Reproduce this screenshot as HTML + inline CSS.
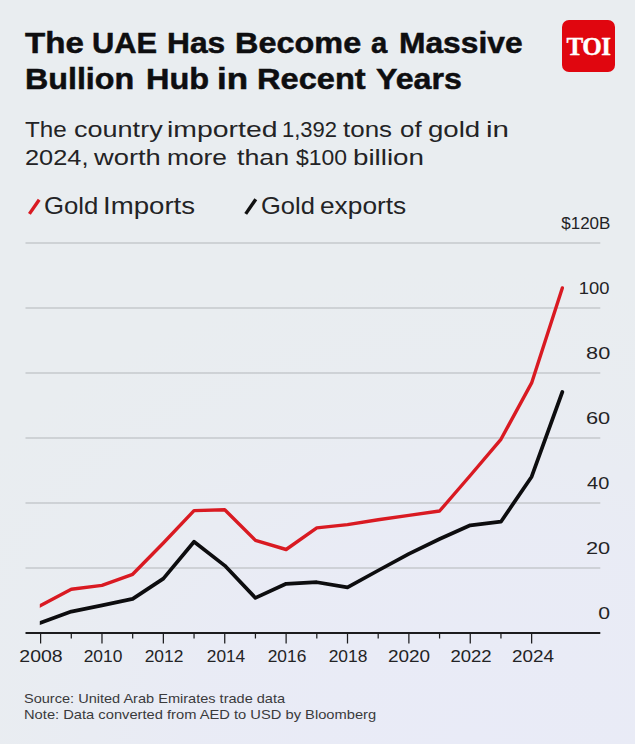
<!DOCTYPE html>
<html><head><meta charset="utf-8"><style>
html,body{margin:0;padding:0;}
body{width:635px;height:744px;position:relative;overflow:hidden;background:#e9edf0;
background-image:radial-gradient(ellipse 620px 480px at 470px 744px, rgba(233,235,247,1) 0%, rgba(233,235,246,0.85) 45%, rgba(233,236,243,0.4) 75%, rgba(233,237,240,0) 100%);
font-family:"Liberation Sans",sans-serif;}
.chart{position:absolute;left:0;top:0;}
.t{position:absolute;white-space:nowrap;line-height:normal;}
.logo{position:absolute;left:562px;top:20px;width:53px;height:52px;border-radius:7px;background:#e0060f;}
.logo span{position:absolute;left:0;right:0;top:14.4px;text-align:center;font-family:"Liberation Serif",serif;font-weight:700;font-size:26px;line-height:26px;color:#fff;-webkit-text-stroke:0.35px #fff;letter-spacing:-0.5px;transform:scaleX(0.965);}
</style></head><body>
<svg class="chart" width="635" height="744" viewBox="0 0 635 744">
<line x1="25.5" y1="243" x2="600.3" y2="243" stroke="#c5c8cc" stroke-width="1.6"/>
<line x1="25.5" y1="308" x2="600.3" y2="308" stroke="#c5c8cc" stroke-width="1.6"/>
<line x1="25.5" y1="373" x2="600.3" y2="373" stroke="#c5c8cc" stroke-width="1.6"/>
<line x1="25.5" y1="438" x2="600.3" y2="438" stroke="#c5c8cc" stroke-width="1.6"/>
<line x1="25.5" y1="503" x2="600.3" y2="503" stroke="#c5c8cc" stroke-width="1.6"/>
<line x1="25.5" y1="568" x2="600.3" y2="568" stroke="#c5c8cc" stroke-width="1.6"/>
<defs><clipPath id="cp"><rect x="39.8" y="0" width="600" height="744"/></clipPath></defs>
<polyline clip-path="url(#cp)" points="37.60,606.98 40.60,605.40 71.29,589.20 101.98,585.40 132.67,574.30 163.36,543.00 194.05,510.60 224.74,509.80 255.43,540.40 286.12,549.50 316.81,527.90 347.50,524.60 378.19,519.70 408.88,515.40 439.57,511.00 470.26,475.50 500.95,439.30 531.64,382.90 562.33,287.90" fill="none" stroke="#d91a22" stroke-width="3.4" stroke-linejoin="round" stroke-linecap="round"/>
<polyline clip-path="url(#cp)" points="37.60,623.79 40.60,622.70 71.29,611.60 101.98,605.40 132.67,598.90 163.36,578.60 194.05,541.80 224.74,565.60 255.43,597.90 286.12,583.80 316.81,582.20 347.50,587.40 378.19,570.50 408.88,553.80 439.57,539.00 470.26,525.30 500.95,521.70 531.64,476.70 562.33,392.00" fill="none" stroke="#0d0d0f" stroke-width="3.7" stroke-linejoin="round" stroke-linecap="round"/>
<line x1="25.5" y1="633" x2="600.3" y2="633" stroke="#1c1c1e" stroke-width="1.9"/>
<line x1="40.60" y1="633" x2="40.60" y2="643.5" stroke="#1c1c1e" stroke-width="1.25"/>
<line x1="71.29" y1="633" x2="71.29" y2="638.5" stroke="#1c1c1e" stroke-width="1.25"/>
<line x1="101.98" y1="633" x2="101.98" y2="643.5" stroke="#1c1c1e" stroke-width="1.25"/>
<line x1="132.67" y1="633" x2="132.67" y2="638.5" stroke="#1c1c1e" stroke-width="1.25"/>
<line x1="163.36" y1="633" x2="163.36" y2="643.5" stroke="#1c1c1e" stroke-width="1.25"/>
<line x1="194.05" y1="633" x2="194.05" y2="638.5" stroke="#1c1c1e" stroke-width="1.25"/>
<line x1="224.74" y1="633" x2="224.74" y2="643.5" stroke="#1c1c1e" stroke-width="1.25"/>
<line x1="255.43" y1="633" x2="255.43" y2="638.5" stroke="#1c1c1e" stroke-width="1.25"/>
<line x1="286.12" y1="633" x2="286.12" y2="643.5" stroke="#1c1c1e" stroke-width="1.25"/>
<line x1="316.81" y1="633" x2="316.81" y2="638.5" stroke="#1c1c1e" stroke-width="1.25"/>
<line x1="347.50" y1="633" x2="347.50" y2="643.5" stroke="#1c1c1e" stroke-width="1.25"/>
<line x1="378.19" y1="633" x2="378.19" y2="638.5" stroke="#1c1c1e" stroke-width="1.25"/>
<line x1="408.88" y1="633" x2="408.88" y2="643.5" stroke="#1c1c1e" stroke-width="1.25"/>
<line x1="439.57" y1="633" x2="439.57" y2="638.5" stroke="#1c1c1e" stroke-width="1.25"/>
<line x1="470.26" y1="633" x2="470.26" y2="643.5" stroke="#1c1c1e" stroke-width="1.25"/>
<line x1="500.95" y1="633" x2="500.95" y2="638.5" stroke="#1c1c1e" stroke-width="1.25"/>
<line x1="531.64" y1="633" x2="531.64" y2="643.5" stroke="#1c1c1e" stroke-width="1.25"/>
<line x1="29.4" y1="213.9" x2="39.2" y2="199.8" stroke="#d91a22" stroke-width="3.4" stroke-linecap="butt"/>
<line x1="245.7" y1="213.9" x2="255.8" y2="199.3" stroke="#111" stroke-width="3.4" stroke-linecap="butt"/>
</svg>
<div class="t" style="top:26.23px;font-size:29.8px;font-weight:700;color:#0e0e10;left:25.29px;transform-origin:0 0;transform:scaleX(1.1103);-webkit-text-stroke:0.5px #0e0e10;">The</div>
<div class="t" style="top:26.23px;font-size:29.8px;font-weight:700;color:#0e0e10;left:92.33px;transform-origin:0 0;transform:scaleX(1.0347);-webkit-text-stroke:0.5px #0e0e10;">UAE</div>
<div class="t" style="top:26.23px;font-size:29.8px;font-weight:700;color:#0e0e10;left:167.07px;transform-origin:0 0;transform:scaleX(1.0651);-webkit-text-stroke:0.5px #0e0e10;">Has</div>
<div class="t" style="top:26.23px;font-size:29.8px;font-weight:700;color:#0e0e10;left:234.73px;transform-origin:0 0;transform:scaleX(1.0885);-webkit-text-stroke:0.5px #0e0e10;">Become</div>
<div class="t" style="top:26.23px;font-size:29.8px;font-weight:700;color:#0e0e10;left:371.48px;transform-origin:0 0;transform:scaleX(0.9803);-webkit-text-stroke:0.5px #0e0e10;">a</div>
<div class="t" style="top:26.23px;font-size:29.8px;font-weight:700;color:#0e0e10;left:398.67px;transform-origin:0 0;transform:scaleX(1.0660);-webkit-text-stroke:0.5px #0e0e10;">Massive</div>
<div class="t" style="top:62.33px;font-size:29.8px;font-weight:700;color:#0e0e10;left:25.39px;transform-origin:0 0;transform:scaleX(1.0816);-webkit-text-stroke:0.5px #0e0e10;">Bullion</div>
<div class="t" style="top:62.33px;font-size:29.8px;font-weight:700;color:#0e0e10;left:145.57px;transform-origin:0 0;transform:scaleX(1.0901);-webkit-text-stroke:0.5px #0e0e10;">Hub</div>
<div class="t" style="top:62.33px;font-size:29.8px;font-weight:700;color:#0e0e10;left:217.16px;transform-origin:0 0;transform:scaleX(1.1717);-webkit-text-stroke:0.5px #0e0e10;">in</div>
<div class="t" style="top:62.33px;font-size:29.8px;font-weight:700;color:#0e0e10;left:257.37px;transform-origin:0 0;transform:scaleX(1.0937);-webkit-text-stroke:0.5px #0e0e10;">Recent</div>
<div class="t" style="top:62.33px;font-size:29.8px;font-weight:700;color:#0e0e10;left:375.70px;transform-origin:0 0;transform:scaleX(1.0805);-webkit-text-stroke:0.5px #0e0e10;">Years</div>
<div class="t" style="top:116.27px;font-size:22.8px;font-weight:400;color:#232325;left:25.16px;transform-origin:0 0;transform:scaleX(1.0619);">The</div>
<div class="t" style="top:116.27px;font-size:22.8px;font-weight:400;color:#232325;left:73.56px;transform-origin:0 0;transform:scaleX(1.1859);">country</div>
<div class="t" style="top:116.27px;font-size:22.8px;font-weight:400;color:#232325;left:167.49px;transform-origin:0 0;transform:scaleX(1.2456);">imported</div>
<div class="t" style="top:116.27px;font-size:22.8px;font-weight:400;color:#232325;left:282.30px;transform-origin:0 0;transform:scaleX(0.9640);">1,392</div>
<div class="t" style="top:116.27px;font-size:22.8px;font-weight:400;color:#232325;left:343.48px;transform-origin:0 0;transform:scaleX(1.1377);">tons</div>
<div class="t" style="top:116.27px;font-size:22.8px;font-weight:400;color:#232325;left:399.81px;transform-origin:0 0;transform:scaleX(1.1352);">of</div>
<div class="t" style="top:116.27px;font-size:22.8px;font-weight:400;color:#232325;left:427.99px;transform-origin:0 0;transform:scaleX(1.2105);">gold</div>
<div class="t" style="top:116.27px;font-size:22.8px;font-weight:400;color:#232325;left:485.71px;transform-origin:0 0;transform:scaleX(1.2954);">in</div>
<div class="t" style="top:143.67px;font-size:22.8px;font-weight:400;color:#232325;left:25.14px;transform-origin:0 0;transform:scaleX(1.1127);">2024,</div>
<div class="t" style="top:143.67px;font-size:22.8px;font-weight:400;color:#232325;left:94.09px;transform-origin:0 0;transform:scaleX(1.1971);">worth</div>
<div class="t" style="top:143.67px;font-size:22.8px;font-weight:400;color:#232325;left:166.68px;transform-origin:0 0;transform:scaleX(1.1546);">more</div>
<div class="t" style="top:143.67px;font-size:22.8px;font-weight:400;color:#232325;left:236.79px;transform-origin:0 0;transform:scaleX(1.1750);">than</div>
<div class="t" style="top:143.67px;font-size:22.8px;font-weight:400;color:#232325;left:295.57px;transform-origin:0 0;transform:scaleX(1.0057);">$100</div>
<div class="t" style="top:143.67px;font-size:22.8px;font-weight:400;color:#232325;left:353.36px;transform-origin:0 0;transform:scaleX(1.2178);">billion</div>
<div class="t" style="top:192.60px;font-size:23.2px;font-weight:400;color:#232325;left:43.57px;transform-origin:0 0;transform:scaleX(1.1108);">Gold</div>
<div class="t" style="top:192.60px;font-size:23.2px;font-weight:400;color:#232325;left:102.95px;transform-origin:0 0;transform:scaleX(1.1914);">Imports</div>
<div class="t" style="top:192.60px;font-size:23.2px;font-weight:400;color:#232325;left:261.02px;transform-origin:0 0;transform:scaleX(1.1000);">Gold</div>
<div class="t" style="top:192.60px;font-size:23.2px;font-weight:400;color:#232325;left:320.39px;transform-origin:0 0;transform:scaleX(1.1338);">exports</div>
<div class="t" style="top:213.66px;font-size:16.4px;font-weight:400;color:#232325;right:24.99px;transform-origin:100% 0;transform:scaleX(1.0367);">$120B</div>
<div class="t" style="top:278.66px;font-size:16.4px;font-weight:400;color:#232325;right:25.35px;transform-origin:100% 0;transform:scaleX(1.1204);">100</div>
<div class="t" style="top:343.66px;font-size:16.4px;font-weight:400;color:#232325;right:24.33px;transform-origin:100% 0;transform:scaleX(1.3244);">80</div>
<div class="t" style="top:408.66px;font-size:16.4px;font-weight:400;color:#232325;right:24.35px;transform-origin:100% 0;transform:scaleX(1.3301);">60</div>
<div class="t" style="top:473.66px;font-size:16.4px;font-weight:400;color:#232325;right:25.35px;transform-origin:100% 0;transform:scaleX(1.2172);">40</div>
<div class="t" style="top:538.66px;font-size:16.4px;font-weight:400;color:#232325;right:24.35px;transform-origin:100% 0;transform:scaleX(1.3301);">20</div>
<div class="t" style="top:603.66px;font-size:16.4px;font-weight:400;color:#232325;right:24.41px;transform-origin:100% 0;transform:scaleX(1.2969);">0</div>
<div class="t" style="top:646.96px;font-size:16.4px;font-weight:400;color:#232325;left:41.45px;transform-origin:0 0;transform:scaleX(1.1880) translateX(-50%);">2008</div>
<div class="t" style="top:646.96px;font-size:16.4px;font-weight:400;color:#232325;left:103.43px;transform-origin:0 0;transform:scaleX(1.0602) translateX(-50%);">2010</div>
<div class="t" style="top:646.96px;font-size:16.4px;font-weight:400;color:#232325;left:163.86px;transform-origin:0 0;transform:scaleX(1.0620) translateX(-50%);">2012</div>
<div class="t" style="top:646.96px;font-size:16.4px;font-weight:400;color:#232325;left:225.69px;transform-origin:0 0;transform:scaleX(1.0547) translateX(-50%);">2014</div>
<div class="t" style="top:646.96px;font-size:16.4px;font-weight:400;color:#232325;left:286.92px;transform-origin:0 0;transform:scaleX(1.0583) translateX(-50%);">2016</div>
<div class="t" style="top:646.96px;font-size:16.4px;font-weight:400;color:#232325;left:347.95px;transform-origin:0 0;transform:scaleX(1.0602) translateX(-50%);">2018</div>
<div class="t" style="top:646.96px;font-size:16.4px;font-weight:400;color:#232325;left:409.28px;transform-origin:0 0;transform:scaleX(1.1551) translateX(-50%);">2020</div>
<div class="t" style="top:646.96px;font-size:16.4px;font-weight:400;color:#232325;left:471.21px;transform-origin:0 0;transform:scaleX(1.1308) translateX(-50%);">2022</div>
<div class="t" style="top:646.96px;font-size:16.4px;font-weight:400;color:#232325;left:532.69px;transform-origin:0 0;transform:scaleX(1.1509) translateX(-50%);">2024</div>
<div class="t" style="top:691.02px;font-size:12.8px;font-weight:400;color:#3a3a3c;left:24.20px;transform-origin:0 0;transform:scaleX(1.1363);">Source: United Arab Emirates trade data</div>
<div class="t" style="top:707.22px;font-size:12.8px;font-weight:400;color:#3a3a3c;left:24.16px;transform-origin:0 0;transform:scaleX(1.1488);">Note: Data converted from AED to USD by Bloomberg</div>
<div class="logo"><span>TOI</span></div>
</body></html>
